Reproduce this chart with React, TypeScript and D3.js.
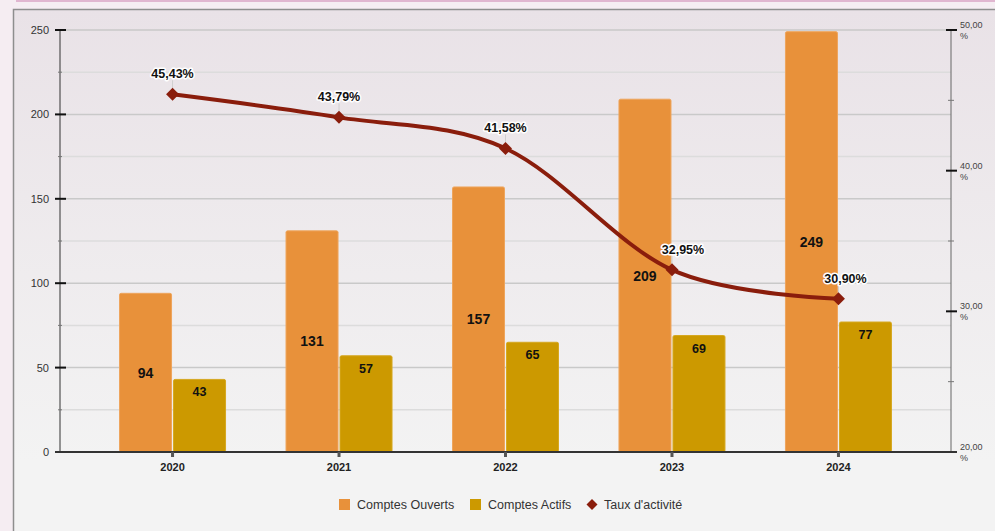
import React from "react";
import * as d3 from "d3";

const categories = ["2020", "2021", "2022", "2023", "2024"];
const comptesOuverts = [94, 131, 157, 209, 249];
const comptesActifs = [43, 57, 65, 69, 77];
const tauxActivite = [45.43, 43.79, 41.58, 32.95, 30.9];
const leftTicks = [0, 50, 100, 150, 200, 250];
const rightTicks = [20, 30, 40, 50];
const seriesNames = ["Comptes Ouverts", "Comptes Actifs", "Taux d'activité"];

const W = 995;
const H = 531;
const FONT = "'Liberation Sans', Arial, sans-serif";
const ORANGE = "#e8913a";
const GOLD = "#cc9900";
const RED = "#8a1d0c";

function fmtPct(v: number) {
  return v.toFixed(2).replace(".", ",") + "%";
}

export default function App() {
  const left = 60;
  const right = 951;
  const top = 30;
  const bottom = 452;

  const x = d3.scalePoint<string>().domain(categories).range([left, right]).padding(0.676);
  const sub = d3.scaleBand<string>().domain(["o", "a"]).range([-53, 53]).paddingInner(0.037);
  const y = d3.scaleLinear().domain([0, 250]).range([bottom, top]);
  const y2 = d3.scaleLinear().domain([20, 50]).range([bottom, top]);

  const gridVals = d3.range(0, 251, 25);
  const rightMinor = [25, 35, 45];

  const linePts: [number, number][] = categories.map((c, i) => [x(c)!, y2(tauxActivite[i])]);
  const linePath = d3.line().curve(d3.curveCardinal.tension(0))(linePts) || "";

  const diamond = (cx: number, cy: number, r: number) =>
    `M${cx},${cy - r}L${cx + r},${cy}L${cx},${cy + r}L${cx - r},${cy}Z`;

  const labelDx = (i: number) => (i === 3 ? 11 : i === 4 ? 7 : 0);

  return (
    <svg
      width={W}
      height={H}
      style={{ position: "absolute", left: 0, top: 0, fontFamily: FONT }}
    >
      <defs>
        <linearGradient id="panelGrad" x1="0" y1="0" x2="0" y2="1">
          <stop offset="0" stopColor="#e9e2e7" />
          <stop offset="0.85" stopColor="#f3f3f3" />
          <stop offset="1" stopColor="#f3f3f3" />
        </linearGradient>
      </defs>
      <rect x={0} y={0} width={W} height={H} fill="#f5edf2" />
      <rect x={16} y={0} width={W - 16} height={2} fill="#e0b6d0" />
      <rect x={13.5} y={9.5} width={W} height={H} fill="url(#panelGrad)" stroke="#8e8e8e" strokeWidth={1.5} />

      {/* gridlines */}
      {gridVals.map((v) => (
        <line
          key={"g" + v}
          x1={left}
          x2={right}
          y1={y(v)}
          y2={y(v)}
          stroke={v % 50 === 0 ? "#c9c9c9" : "#dcdcdc"}
          strokeWidth={1.5}
        />
      ))}

      {/* bars */}
      {categories.map((c, i) => {
        const cx = x(c)!;
        const xo = cx + sub("o")!;
        const xa = cx + sub("a")!;
        const bw = sub.bandwidth();
        return (
          <g key={"b" + c}>
            <rect x={xo} y={y(comptesOuverts[i])} width={bw} height={bottom - y(comptesOuverts[i])} fill={ORANGE} stroke="#eea55c" strokeWidth={1} rx={1.5} />
            <rect x={xa} y={y(comptesActifs[i])} width={bw} height={bottom - y(comptesActifs[i])} fill={GOLD} stroke="#d6a820" strokeWidth={1} rx={1.5} />
            <text x={xo + bw / 2} y={(y(comptesOuverts[i]) + bottom) / 2 + 5} textAnchor="middle" fontSize={14} fontWeight="bold" fill="#111">
              {comptesOuverts[i]}
            </text>
            <text x={xa + bw / 2} y={y(comptesActifs[i]) + 17} textAnchor="middle" fontSize={12.5} fontWeight="bold" fill="#111">
              {comptesActifs[i]}
            </text>
          </g>
        );
      })}

      {/* left axis */}
      <line x1={left} x2={left} y1={top} y2={bottom} stroke="#333" strokeWidth={1} />
      {gridVals.map((v) =>
        v % 50 === 0 ? (
          <line key={"lt" + v} x1={55} x2={66} y1={y(v)} y2={y(v)} stroke="#111" strokeWidth={2} />
        ) : (
          <line key={"lt" + v} x1={58} x2={62} y1={y(v)} y2={y(v)} stroke="#777" strokeWidth={1} />
        )
      )}
      {leftTicks.map((v) => (
        <text key={"ll" + v} x={49} y={y(v) + 4} textAnchor="end" fontSize={11} fill="#333">
          {v}
        </text>
      ))}

      {/* right axis */}
      <line x1={right} x2={right} y1={top} y2={bottom} stroke="#666" strokeWidth={1} />
      {rightTicks.map((v) => (
        <g key={"rt" + v}>
          <line x1={946} x2={957} y1={y2(v)} y2={y2(v)} stroke="#111" strokeWidth={2} />
          <text x={960} y={y2(v) - 2} fontSize={9} fill="#444">
            {v.toFixed(2).replace(".", ",")}
          </text>
          <text x={960} y={y2(v) + 9} fontSize={9} fill="#444">
            %
          </text>
        </g>
      ))}
      {rightMinor.map((v) => (
        <line key={"rm" + v} x1={948} x2={954} y1={y2(v)} y2={y2(v)} stroke="#777" strokeWidth={1} />
      ))}

      {/* x axis */}
      <line x1={55} x2={957} y1={bottom} y2={bottom} stroke="#333" strokeWidth={2} />
      {categories.map((c) => (
        <g key={"xt" + c}>
          <rect x={x(c)! - 1.5} y={bottom} width={3} height={5} fill="#555" />
          <text x={x(c)!} y={bottom + 19} textAnchor="middle" fontSize={11} fontWeight="bold" fill="#222">
            {c}
          </text>
        </g>
      ))}

      {/* line series */}
      <path d={linePath} fill="none" stroke={RED} strokeWidth={4} strokeLinejoin="round" />
      {linePts.map(([px, py], i) => (
        <g key={"p" + i}>
          <line x1={px} x2={px} y1={py - 14} y2={py - 6} stroke="#cfcfcf" strokeWidth={1} />
          <path d={diamond(px, py, 6.5)} fill={RED} />
          <text
            x={px + labelDx(i)}
            y={py - 16}
            textAnchor="middle"
            fontSize={12.5}
            fontWeight="bold"
            fill="#111"
            stroke="#fff"
            strokeWidth={3}
            strokeLinejoin="round"
            paintOrder="stroke"
          >
            {fmtPct(tauxActivite[i])}
          </text>
        </g>
      ))}

      {/* legend */}
      <g fontSize={12.5} fill="#333">
        <rect x={339} y={499} width={11} height={11} fill={ORANGE} />
        <text x={357} y={509}>{seriesNames[0]}</text>
        <rect x={470} y={499} width={11} height={11} fill={GOLD} />
        <text x={488} y={509}>{seriesNames[1]}</text>
        <path d={diamond(592, 504.5, 5.5)} fill={RED} />
        <text x={604} y={509}>{seriesNames[2]}</text>
      </g>
    </svg>
  );
}
